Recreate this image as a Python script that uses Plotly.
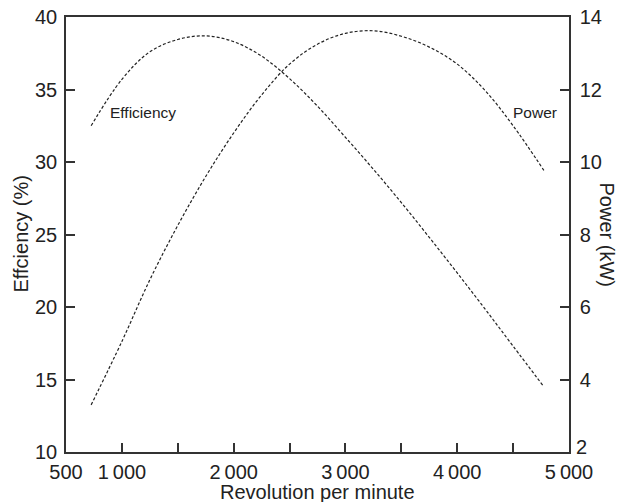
import plotly.graph_objects as go

rpm = [725, 1000, 1250, 1500, 1750, 2000, 2250, 2500, 2750, 3000, 3250, 3500,
       3750, 4000, 4250, 4500, 4775]
efficiency = [32.5, 35.7, 37.6, 38.45, 38.7, 38.3, 37.3, 35.75, 33.85, 31.7, 29.5,
              27.2, 24.8, 22.35, 19.85, 17.3, 14.5]
power = [3.3, 5.05, 6.75, 8.25, 9.6, 10.8, 11.85, 12.7, 13.25, 13.55, 13.62,
         13.47, 13.17, 12.7, 11.97, 11.0, 9.77]

x_tickvals = [500, 1000, 1500, 2000, 2500, 3000, 3500, 4000, 4500, 5000]
x_ticktext = ["500", "1\u2009000", "", "2\u2009000", "", "3\u2009000", "", "4\u2009000", "", "5\u2009000"]
left_ticks = [10, 15, 20, 25, 30, 35, 40]
right_ticks = [2, 4, 6, 8, 10, 12, 14]

FONT = "Liberation Sans, Arial, sans-serif"
TXT = "#222222"
AX = "#333333"

W, H = 621, 502
ML, MR, MT, MB = 66, 52, 16.5, 50.3
PW, PH = W - ML - MR, H - MT - MB

fig = go.Figure()
fig.add_trace(go.Scatter(x=rpm, y=efficiency, mode="lines", line_shape="spline",
                         line=dict(color="#222222", width=1.2, dash="3px,2px"),
                         showlegend=False, yaxis="y"))
fig.add_trace(go.Scatter(x=rpm, y=power, mode="lines", line_shape="spline",
                         line=dict(color="#222222", width=1.2, dash="3px,2px"),
                         showlegend=False, yaxis="y2"))

common = dict(ticks="inside", ticklen=9, tickwidth=1.5, tickcolor=AX,
              showline=True, linecolor=AX, linewidth=1.5,
              showgrid=False, zeroline=False, automargin=False)

# the lowest right-axis label is drawn separately so it can sit just clear of "5 000"
right_labels = [str(v) if v != right_ticks[0] else "" for v in right_ticks]

fig.update_layout(
    width=W, height=H,
    margin=dict(l=ML, r=MR, t=MT, b=MB, autoexpand=False),
    paper_bgcolor="white", plot_bgcolor="white",
    font=dict(family=FONT, color=TXT, size=20),
    xaxis=dict(range=[500, 5000], tickvals=x_tickvals, ticktext=x_ticktext, mirror=True,
               tickfont=dict(size=20, color=TXT), ticklabelstandoff=1, **common),
    yaxis=dict(range=[10, 40], tickvals=left_ticks,
               tickfont=dict(size=20, color=TXT), ticklabelstandoff=3, **common),
    yaxis2=dict(range=[2, 14], tickvals=right_ticks, ticktext=right_labels,
                overlaying="y", side="right",
                tickfont=dict(size=20, color=TXT), ticklabelstandoff=5, **common),
)

fig.add_annotation(x=1.0, y=right_ticks[0], xref="paper", yref="y2", text=str(right_ticks[0]),
                   xanchor="left", yanchor="middle", xshift=6, yshift=5, borderpad=0,
                   showarrow=False, font=dict(size=20, color=TXT))

fig.add_annotation(x=1190, y=33.42, xref="x", yref="y", text="Efficiency",
                   showarrow=False, font=dict(size=15.5, color=TXT))
fig.add_annotation(x=4700, y=33.42, xref="x", yref="y", text="Power",
                   showarrow=False, font=dict(size=15.5, color=TXT))

fig.add_annotation(x=0.5, y=-(492 - (H - MB)) / PH, xref="paper", yref="paper",
                   yanchor="middle", text="Revolution per minute",
                   showarrow=False, font=dict(size=20, color=TXT))
fig.add_annotation(x=(20 - ML) / PW, y=0.5, xref="paper", yref="paper", xanchor="center",
                   text="Effciency (%)", showarrow=False, textangle=-90,
                   font=dict(size=20, color=TXT))
fig.add_annotation(x=(607 - ML) / PW, y=0.5, xref="paper", yref="paper", xanchor="center",
                   text="Power (kW)", showarrow=False, textangle=90,
                   font=dict(size=20, color=TXT))

fig.write_html("out.html")
